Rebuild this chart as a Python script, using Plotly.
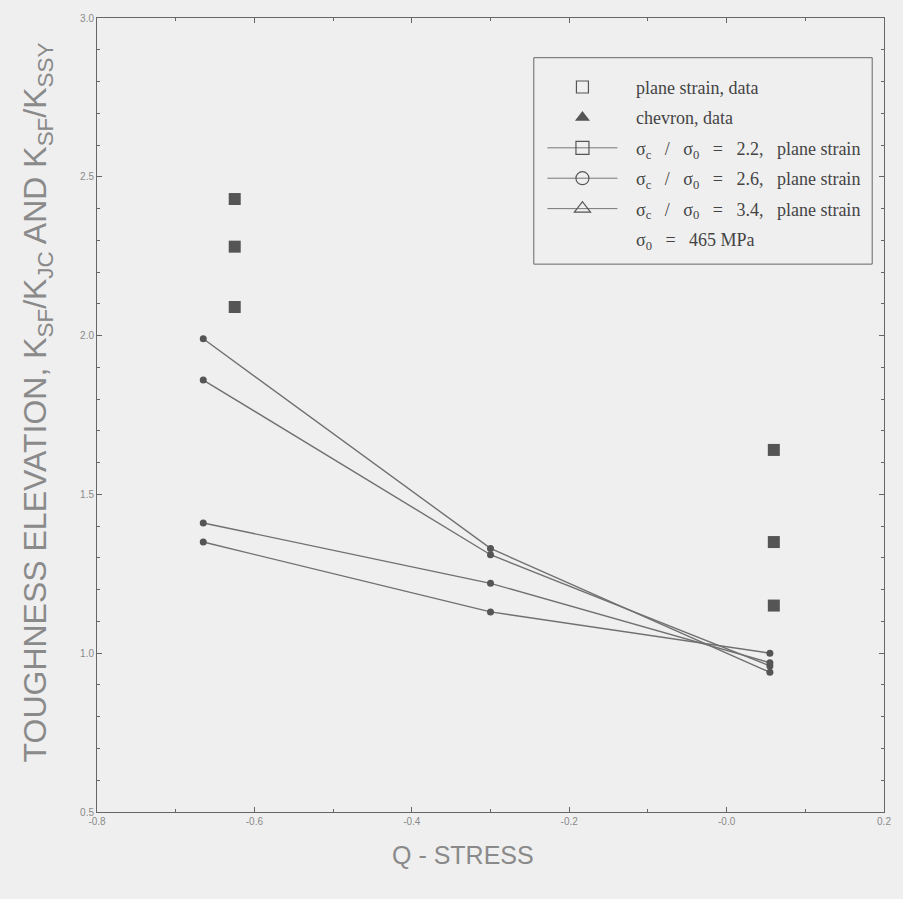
import plotly.graph_objects as go

# Q-stress at which each model curve is evaluated
q_model = [-0.665, -0.30, 0.055]

# Toughness elevation predicted for each critical-stress ratio (plane strain)
model_a = [1.99, 1.33, 0.94]
model_b = [1.86, 1.31, 0.96]
model_c = [1.41, 1.22, 0.97]
model_d = [1.35, 1.13, 1.00]

# Measured plane-strain data
q_data = [-0.625, -0.625, -0.625, 0.06, 0.06, 0.06]
k_data = [2.43, 2.28, 2.09, 1.64, 1.35, 1.15]

x_ticks = [-0.8, -0.6, -0.4, -0.2, 0.0, 0.2]
x_tick_text = ["-0.8", "-0.6", "-0.4", "-0.2", "-0.0", "0.2"]
y_ticks = [0.5, 1.0, 1.5, 2.0, 2.5, 3.0]
y_tick_text = ["0.5", "1.0", "1.5", "2.0", "2.5", "3.0"]

sp = "\u00a0\u00a0 "  # wide gap used inside the ratio labels
legend_labels = [
    "plane strain, data",
    "chevron, data",
    f"σ<sub>c</sub>{sp}/{sp}σ<sub>0</sub>{sp}={sp}2.2,{sp}plane strain",
    f"σ<sub>c</sub>{sp}/{sp}σ<sub>0</sub>{sp}={sp}2.6,{sp}plane strain",
    f"σ<sub>c</sub>{sp}/{sp}σ<sub>0</sub>{sp}={sp}3.4,{sp}plane strain",
    f"σ<sub>0</sub>{sp}={sp}465 MPa",
]

line_color = "#707070"
mark_color = "#555555"
bg = "#efefef"
pad = "\u00a0" * 3  # space between legend glyph and its label

fig = go.Figure()

# model curves
for ys in (model_a, model_b, model_c, model_d):
    fig.add_trace(go.Scatter(
        x=q_model, y=ys, mode="lines+markers",
        line=dict(color=line_color, width=1.4),
        marker=dict(symbol="circle", size=7, color=mark_color),
        showlegend=False, hoverinfo="skip",
    ))

# measured data
fig.add_trace(go.Scatter(
    x=q_data, y=k_data, mode="markers",
    marker=dict(symbol="square", size=12, color=mark_color),
    showlegend=False,
))

# legend entries
legend_styles = [
    dict(mode="markers", marker=dict(symbol="square-open", size=12, color="#555", line=dict(width=1.2))),
    dict(mode="markers", marker=dict(symbol="triangle-up", size=13, color="#555")),
    dict(mode="lines+markers", line=dict(color="#777", width=1),
         marker=dict(symbol="square-open", size=13, color="#555", line=dict(width=1.2))),
    dict(mode="lines+markers", line=dict(color="#777", width=1),
         marker=dict(symbol="circle-open", size=13, color="#555", line=dict(width=1.2))),
    dict(mode="lines+markers", line=dict(color="#777", width=1),
         marker=dict(symbol="triangle-up-open", size=14, color="#555", line=dict(width=1.2))),
    dict(mode="markers", marker=dict(size=1, color="rgba(0,0,0,0)")),
]
for i, (label, style) in enumerate(zip(legend_labels, legend_styles)):
    fig.add_trace(go.Scatter(x=[None], y=[None], name=pad + label, legendgroup=f"g{i}", **style))

axis_common = dict(
    showline=True, linecolor="#666", linewidth=1, mirror="ticks",
    ticks="inside", ticklen=5, tickcolor="#666",
    showgrid=False, zeroline=False,
    tickfont=dict(family="Liberation Sans", size=10, color="#8a8a8a"),
)

fig.update_xaxes(range=[-0.8, 0.2], tickvals=x_ticks, ticktext=x_tick_text,
                 minor=dict(ticks="inside", ticklen=3, dtick=0.1, tickcolor="#666"),
                 **axis_common)
fig.update_yaxes(range=[0.5, 3.0], tickvals=y_ticks, ticktext=y_tick_text,
                 minor=dict(ticks="inside", ticklen=3, dtick=0.1, tickcolor="#666"),
                 **axis_common)

# legend frame
fig.add_shape(type="rect", xref="paper", yref="paper",
              x0=0.555, x1=0.985, y0=0.690, y1=0.950,
              line=dict(color="#666", width=1), fillcolor=bg, layer="below")

fig.add_annotation(text="Q - STRESS", xref="paper", yref="paper",
                   x=0.465, y=-0.054, xanchor="center", yanchor="middle", showarrow=False,
                   font=dict(family="Liberation Sans", size=25, color="#8a8a8a"))
fig.add_annotation(text="TOUGHNESS ELEVATION, K<sub>SF</sub>/K<sub>JC</sub> AND K<sub>SF</sub>/K<sub>SSY</sub>",
                   xref="paper", yref="paper", x=-0.076, y=0.516, textangle=-90,
                   xanchor="center", yanchor="middle", showarrow=False,
                   font=dict(family="Liberation Sans", size=32, color="#8a8a8a"))

fig.update_layout(
    width=903, height=899,
    margin=dict(l=97, r=13, t=15, b=87),
    paper_bgcolor=bg, plot_bgcolor=bg,
    legend=dict(x=0.566, y=0.936, xanchor="left", yanchor="top",
                bgcolor="rgba(0,0,0,0)", borderwidth=0,
                traceorder="grouped", tracegroupgap=4, itemwidth=70,
                font=dict(family="Liberation Serif", size=18, color="#444")),
)

fig.write_html("out.html")
